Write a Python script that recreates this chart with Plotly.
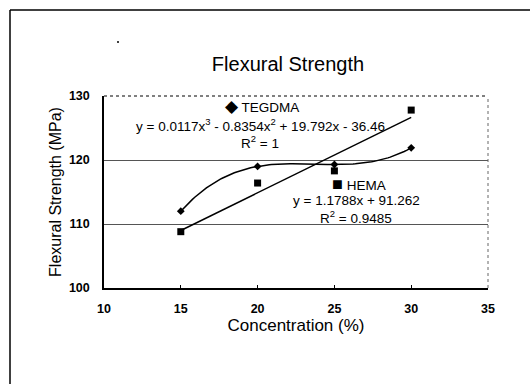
import numpy as np
import plotly.graph_objects as go

conc = [15, 20, 25, 30]
tegdma = [112.0, 119.0, 119.3, 121.9]
hema = [108.8, 116.4, 118.3, 127.8]
x_ticks = [10, 15, 20, 25, 30, 35]
y_ticks = [100, 110, 120, 130]

W, H = 530, 384
L, R, T, B = 104, 42, 96, 96
pw, ph = W - L - R, H - T - B

def px(x):
    return (x - L) / pw

def py(y):
    return (H - B - y) / ph

# trendlines fitted from the data
xs = np.linspace(15, 30, 100)
c3 = np.polyfit(conc, tegdma, 3)
c1 = np.polyfit(conc, hema, 1)

fig = go.Figure()
fig.add_trace(go.Scatter(x=xs, y=np.polyval(c3, xs), mode="lines",
                         line=dict(color="black", width=1.5), showlegend=False, hoverinfo="skip"))
fig.add_trace(go.Scatter(x=xs, y=np.polyval(c1, xs), mode="lines",
                         line=dict(color="black", width=1.5), showlegend=False, hoverinfo="skip"))
fig.add_trace(go.Scatter(x=conc, y=tegdma, mode="markers", name="TEGDMA",
                         marker=dict(symbol="diamond", size=6, color="black"), showlegend=False))
fig.add_trace(go.Scatter(x=conc, y=hema, mode="markers", name="HEMA",
                         marker=dict(symbol="square", size=7, color="black"), showlegend=False))

font = "Liberation Sans, Arial, sans-serif"
ann_font = dict(family=font, size=13.5, color="black")
annotations = [
    dict(x=px(262), y=py(106), text="<span style='font-size:17px'>◆</span> TEGDMA"),
    dict(x=px(260), y=py(125), text="y = 0.0117x<sup>3</sup> - 0.8354x<sup>2</sup> + 19.792x - 36.46"),
    dict(x=px(260), y=py(142), text="R<sup>2</sup> = 1"),
    dict(x=px(359), y=py(184), text="<span style='font-size:18px'>■</span> HEMA"),
    dict(x=px(356), y=py(200), text="y = 1.1788x + 91.262"),
    dict(x=px(356), y=py(217), text="R<sup>2</sup> = 0.9485"),
]
for a in annotations:
    a.update(xref="paper", yref="paper", showarrow=False, font=ann_font,
             xanchor="center", yanchor="middle")

shapes = [
    # outer frame
    dict(type="line", xref="paper", yref="paper", x0=px(10), x1=px(10), y0=py(10), y1=py(384),
         line=dict(color="black", width=1.5)),
    dict(type="line", xref="paper", yref="paper", x0=px(10), x1=px(530), y0=py(10), y1=py(10),
         line=dict(color="black", width=1.5)),
    # plot-area border (top / right)
    dict(type="line", xref="paper", yref="paper", x0=0, x1=1, y0=1, y1=1,
         line=dict(color="black", width=1, dash="dot")),
    dict(type="line", xref="paper", yref="paper", x0=1, x1=1, y0=0, y1=1,
         line=dict(color="#666", width=1, dash="dot")),
    # small speck
    dict(type="circle", xref="paper", yref="paper", x0=px(117), x1=px(119), y0=py(41), y1=py(43),
         fillcolor="black", line=dict(width=0)),
]

fig.update_layout(
    width=W, height=H,
    margin=dict(l=L, r=R, t=T, b=B),
    paper_bgcolor="white", plot_bgcolor="white",
    title=dict(text="Flexural Strength", xref="container", x=288 / W, xanchor="center",
               yref="container", y=1 - 64 / H, yanchor="middle",
               font=dict(family=font, size=20, color="black")),
    xaxis=dict(range=[10, 35], tickvals=x_ticks, showgrid=False, zeroline=False,
               showline=True, linecolor="black", linewidth=1.5,
               ticks="inside", ticklen=3, tickcolor="black", ticklabelstandoff=8,
               tickfont=dict(family=font, size=12.5, color="black", weight="bold"),
               title=dict(text="Concentration (%)", font=dict(family=font, size=17, color="black"),
                          standoff=4)),
    yaxis=dict(range=[100, 130], tickvals=y_ticks, showgrid=True, gridcolor="#555", gridwidth=1,
               zeroline=False, showline=True, linecolor="black", linewidth=1.5,
               ticklabelstandoff=10,
               tickfont=dict(family=font, size=12.5, color="black", weight="bold"),
               title=dict(text="Flexural Strength (MPa)", font=dict(family=font, size=16, color="black"),
                          standoff=3)),
    annotations=annotations,
    shapes=shapes,
)

fig.write_html("out.html")
